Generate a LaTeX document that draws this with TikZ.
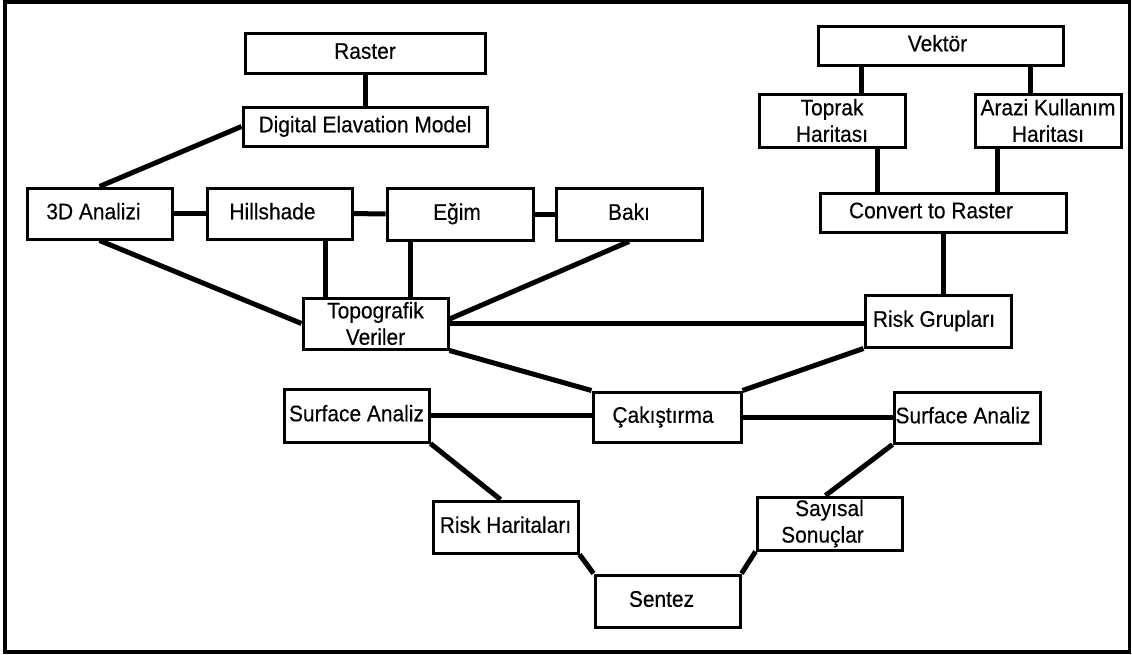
\documentclass[tikz,border=0pt]{standalone}
\usepackage{fontspec}
\setmainfont{Liberation Sans}[FakeStretch=0.93,FakeBold=0.3]
\begin{document}
\begin{tikzpicture}[x=1pt,y=-1pt,
  box/.style={draw=black, line width=3pt, fill=white, rectangle, inner sep=0pt,
    align=center, font=\fontsize{22.5}{26.5}\selectfont},
  one/.style={box, text height=16pt, text depth=4.5pt},
  conn/.style={line width=5pt, black}]
\useasboundingbox (0,0) rectangle (1132,654);
\draw[line width=3.5pt] (5,2) rectangle (1129.5,652);
% boxes
\node[one, minimum width=240pt, minimum height=40pt] (raster) at (365,53) {Raster};
\node[one, minimum width=244pt, minimum height=39pt] (dem) at (365,126.5) {Digital Elavation Model};
\node[one, minimum width=145pt, minimum height=51pt] (an3d) at (99.5,213.5) {3D Analizi\hspace*{12pt}};
\node[one, minimum width=145pt, minimum height=51pt] (hill) at (279.5,213.5) {Hillshade\hspace*{14pt}};
\node[one, minimum width=146pt, minimum height=52pt] (egim) at (460,214) {Eğim\hspace*{6pt}};
\node[one, minimum width=146pt, minimum height=52pt] (baki) at (629,214) {Bakı};
\node[box, minimum width=145pt, minimum height=51pt] (topo) at (375.5,323.5) {Topografik\\Veriler};
\node[one, minimum width=245pt, minimum height=39pt] (vektor) at (940.5,45.5) {Vektör\hspace*{6pt}};
\node[box, minimum width=146pt, minimum height=53pt] (toprak) at (832,120.5) {Toprak\\Haritası};
\node[box, minimum width=146pt, minimum height=53pt] (arazi) at (1048,120.5) {Arazi Kullanım\\Haritası};
\node[one, minimum width=246pt, minimum height=39pt] (convert) at (943,212.5) {Convert to Raster\hspace*{24pt}};
\node[one, minimum width=146pt, minimum height=52pt] (riskg) at (938,321) {Risk Grupları\hspace*{8pt}};
\node[one, minimum width=145pt, minimum height=53pt] (sal) at (356.5,415.5) {Surface Analiz};
\node[one, minimum width=148pt, minimum height=50pt] (cak) at (667,417) {Çakıştırma\hspace*{8pt}};
\node[one, minimum width=146pt, minimum height=51pt] (sar) at (967,417.5) {Surface Analiz\hspace*{8pt}};
\node[one, minimum width=145pt, minimum height=52pt] (riskh) at (505.5,527) {Risk Haritaları};
\node[box, minimum width=145pt, minimum height=53pt] (sayisal) at (829.5,523.5) {Sayısal\\Sonuçlar\hspace*{14pt}};
\node[one, minimum width=145pt, minimum height=52pt] (sentez) at (667.5,601) {Sentez\hspace*{12pt}};
% connectors
\draw[conn] (raster) -- (dem);
\draw[conn] (dem.west) -- (an3d.north);
\draw[conn] (an3d) -- (hill);
\draw[conn] (hill) -- (egim);
\draw[conn] (egim) -- (baki);
\draw[conn] ([xshift=24pt]topo.north west) -- ([xshift=24pt]topo.north west |- hill.south);
\draw[conn] ([xshift=25pt]egim.south west) -- ([xshift=25pt]egim.south west |- topo.north);
\draw[conn] (baki.south) -- ([yshift=4.5pt]topo.east);
\draw[conn] (an3d.south) -- (topo.west);
\draw[conn] (topo.east) -- (topo.east -| riskg.west);
\draw[conn] (topo.south east) -- (cak.north west);
\draw[conn] (riskg.south west) -- (cak.north east);
\draw[conn] ([xshift=45pt]vektor.south west) -- ([xshift=45pt]vektor.south west |- toprak.north);
\draw[conn] ([xshift=-34pt]vektor.south east) -- ([xshift=-34pt]vektor.south east |- arazi.north);
\draw[conn] ([xshift=-29pt]toprak.south east) -- ([xshift=-29pt]toprak.south east |- convert.north);
\draw[conn] ([xshift=24pt]arazi.south west) -- ([xshift=24pt]arazi.south west |- convert.north);
\draw[conn] (convert.south) -- (convert.south |- riskg.north);
\draw[conn] (sal.east) -- (sal.east -| cak.west);
\draw[conn] (cak.east) -- (cak.east -| sar.west);
\draw[conn] (sal.south east) -- ([xshift=-5pt]riskh.north);
\draw[conn] (riskh.south east) -- (sentez.north west);
\draw[conn] (sentez.north east) -- (sayisal.south west);
\draw[conn] (sar.south west) -- ([xshift=-4pt]sayisal.north);
\end{tikzpicture}
\end{document}
